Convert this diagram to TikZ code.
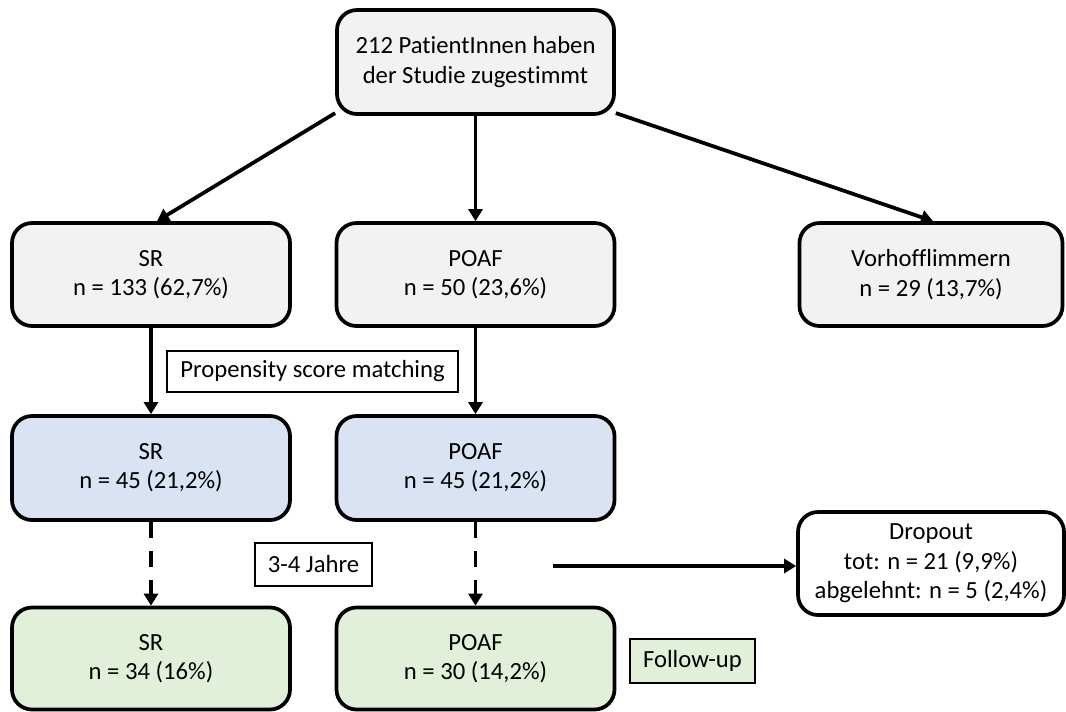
\documentclass[tikz,border=0pt]{standalone}
\usepackage{fontspec}
\setmainfont{Carlito}[Ligatures=NoCommon]
\usetikzlibrary{arrows.meta}
\definecolor{greyfill}{HTML}{F2F2F2}
\definecolor{bluefill}{HTML}{DAE3F3}
\definecolor{greenfill}{HTML}{E2F0D9}
\begin{document}
\begin{tikzpicture}[x=0.75pt,y=-0.75pt,
  every node/.style={font=\fontsize{18.5}{22}\selectfont, align=center, inner sep=0pt},
  bigbox/.style={draw=black, line width=2.8pt, rounded corners=15pt, minimum width=208.5pt, minimum height=77.25pt},
  greybox/.style={bigbox, fill=greyfill},
  bluebox/.style={bigbox, fill=bluefill},
  greenbox/.style={bigbox, fill=greenfill},
  labelbox/.style={draw=black, line width=2.2pt, minimum height=31.5pt},
  arr/.style={line width=2.8pt, -{Triangle[width=10.5pt,length=9pt]}},
  darr/.style={arr, dash pattern=on 12pt off 9.75pt}
]
\useasboundingbox (0,0) rectangle (1066,711);
% row 1
\node[greybox, minimum width=207.75pt, minimum height=78pt] (top) at (475.5,62) {212 PatientInnen haben\\der Studie zugestimmt};
% row 2
\node[greybox] (sr1) at (151,274.5) {SR\\n = 133 (62,7\%)};
\node[greybox] (poaf1) at (475.5,274.5) {POAF\\n = 50 (23,6\%)};
\node[greybox, minimum width=197.25pt] (vhf) at (931,274.5) {Vorhofflimmern\\n = 29 (13,7\%)};
% row 3
\node[bluebox, minimum height=78pt] (sr2) at (151,468) {SR\\n = 45 (21,2\%)};
\node[bluebox, minimum height=78pt] (poaf2) at (475.5,468) {POAF\\n = 45 (21,2\%)};
% row 4
\node[greenbox, minimum height=76.5pt] (sr3) at (151,658.5) {SR\\n = 34 (16\%)};
\node[greenbox, minimum height=76.5pt] (poaf3) at (475.5,658.5) {POAF\\n = 30 (14,2\%)};
% dropout
\node[bigbox, fill=white, minimum width=199.5pt] (drop) at (931,563.5) {Dropout\\tot: n = 21 (9,9\%)\\abgelehnt: n = 5 (2,4\%)};
% labels
\node[labelbox, fill=white, minimum width=218.25pt, minimum height=30.75pt] (psm) at (312.5,371.5) {Propensity score matching};
\node[labelbox, fill=white, minimum width=87.75pt, minimum height=32.25pt] (jahre) at (313.5,564.5) {3-4 Jahre};
\node[labelbox, fill=greenfill, minimum width=93.75pt, minimum height=33pt] (fu) at (692.5,661) {Follow-up};
% connectors
\draw[arr] (top.200) -- ([xshift=4.5pt]sr1.north);
\draw[arr] (top.south) -- (poaf1.north);
\draw[arr] (top.-20) -- ([xshift=1.5pt]vhf.north);
\draw[arr] (sr1.south) -- (sr2.north);
\draw[arr] (poaf1.south) -- (poaf2.north);
\draw[darr] (sr2.south) -- (sr3.north);
\draw[darr] (poaf2.south) -- (poaf3.north);
\coordinate (dstart) at (553,566);
\draw[arr] (dstart) -- (dstart -| drop.west);
\end{tikzpicture}
\end{document}
